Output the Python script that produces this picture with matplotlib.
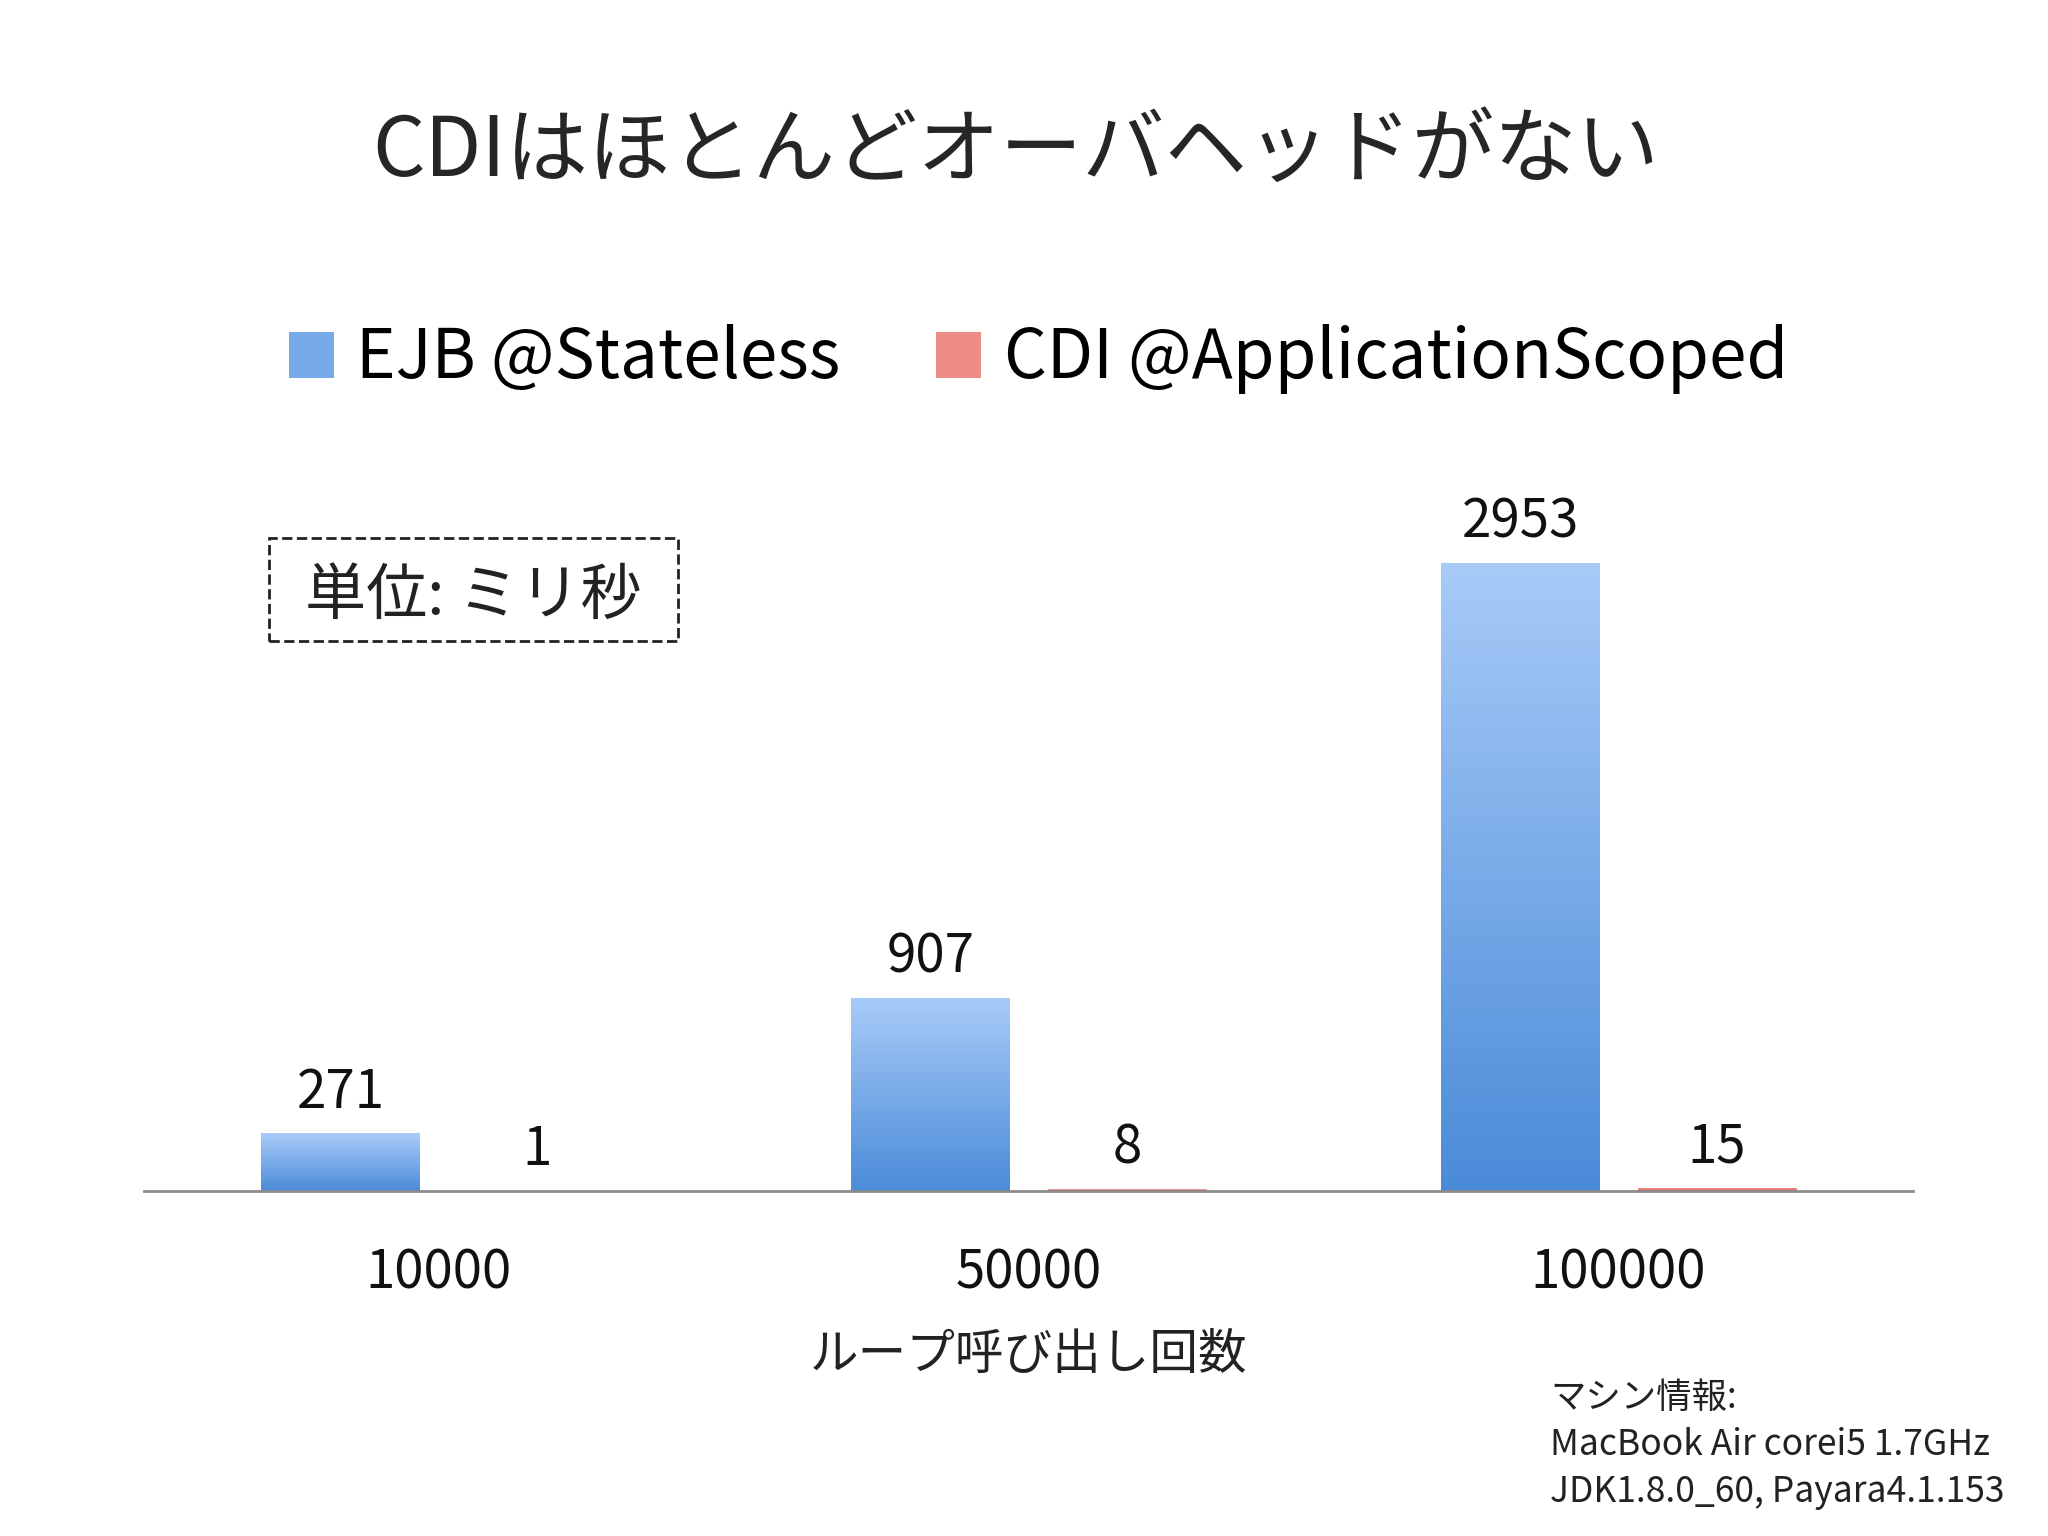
import matplotlib.pyplot as plt
import numpy as np
from matplotlib.colors import LinearSegmentedColormap
from matplotlib.patches import Rectangle, Patch

plt.rcParams['font.family'] = ['Noto Sans CJK JP', 'DejaVu Sans']

loops = ['10000', '50000', '100000']
ejb = [271, 907, 2953]
cdi = [1, 8, 15]
series = ['EJB @Stateless', 'CDI @ApplicationScoped']

blue_cm = LinearSegmentedColormap.from_list('b', ['#4a8bd8', '#a8cbf8'])
red_cm = LinearSegmentedColormap.from_list('r', ['#e05a50', '#f6a8a4'])

fig = plt.figure(figsize=(20.48, 15.36), dpi=100)
ax = fig.add_axes([0.0703, 0.2246, 0.864, 0.443])

x = np.arange(len(loops))
w = 0.268
off = 0.167
grad = np.linspace(0, 1, 256).reshape(-1, 1)


def gradient_bars(xs, vals, cm, fallback):
    bars = ax.bar(xs, vals, w, color=fallback, zorder=2)
    for b in bars:
        x0, y0 = b.get_x(), b.get_y()
        im = ax.imshow(grad, extent=[x0, x0 + b.get_width(), y0, y0 + b.get_height()],
                       origin='lower', aspect='auto', cmap=cm, zorder=3)
        im.set_clip_path(b)
    return bars


gradient_bars(x - off, ejb, blue_cm, '#6fa3e6')
gradient_bars(x + off, cdi, red_cm, '#ec807a')

for xi, v in zip(x - off, ejb):
    ax.annotate(str(v), (xi, v), xytext=(0, 29.5), textcoords='offset points',
                ha='center', va='center', fontsize=38, color='#111111')
for xi, v in zip(x + off, cdi):
    ax.annotate(str(v), (xi, v), xytext=(0, 29.5), textcoords='offset points',
                ha='center', va='center', fontsize=38, color='#111111')

ax.set_xlim(-0.5, 2.5)
ax.set_ylim(0, 3200)
for s in ['top', 'right', 'left']:
    ax.spines[s].set_visible(False)
ax.spines['bottom'].set_color('#8c8c8c')
ax.spines['bottom'].set_linewidth(2)
ax.spines['bottom'].set_zorder(4)
ax.set_yticks([])
ax.set_xticks(x)
ax.set_xticklabels(loops, fontsize=38, color='#111111')
ax.tick_params(axis='x', length=0, pad=39)
ax.set_xlabel('ループ呼び出し回数', fontsize=35, color='#222222', labelpad=22)

fig.text(0.496, 0.901, 'CDIはほとんどオーバヘッドがない', ha='center', va='center',
         fontsize=59.3, color='#262626')

handles = [Patch(facecolor='#78a9ea'), Patch(facecolor='#ee8c86')]
fig.legend(handles, series, loc='center', bbox_to_anchor=(0.507, 0.766), ncol=2,
           frameon=False, fontsize=48.5, handlelength=0.67, handleheight=0.67,
           handletextpad=0.33, columnspacing=1.42)

fig.patches.append(Rectangle((269 / 2048, 1 - 641 / 1536), 409 / 2048, 103 / 1536,
                             transform=fig.transFigure, fill=False, edgecolor='#222222',
                             linestyle='--', linewidth=2))
fig.text(473 / 2048, 1 - 597 / 1536, '単位: ミリ秒', ha='center', va='center',
         fontsize=44, color='#222222')

fig.text(1550 / 2048, 1 - 1445 / 1536,
         'マシン情報:\nMacBook Air corei5 1.7GHz\nJDK1.8.0_60, Payara4.1.153',
         ha='left', va='center', fontsize=25.5, color='#222222', linespacing=1.4)

fig.savefig('out.png', dpi=100)
